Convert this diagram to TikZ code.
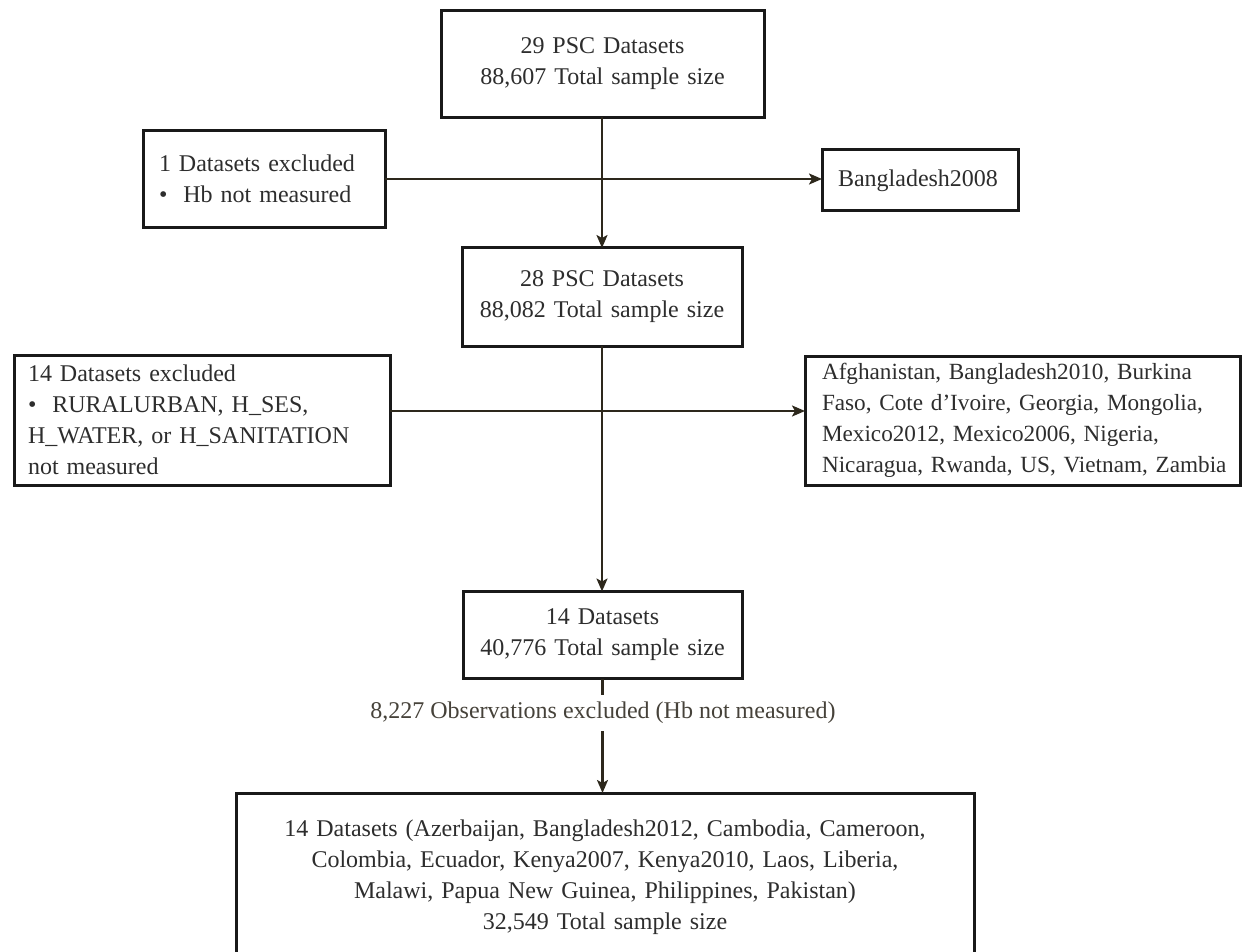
\documentclass[tikz,border=0pt]{standalone}
\usepackage{fontspec}
\setmainfont{Liberation Serif}
\usetikzlibrary{arrows.meta}
\definecolor{arrowc}{RGB}{45,40,28}
\definecolor{boxc}{RGB}{25,25,25}
\definecolor{txtc}{RGB}{45,45,45}
\definecolor{lblc}{RGB}{70,66,58}
\begin{document}
\begin{tikzpicture}[x=1pt,y=-1pt,
  box/.style={draw=boxc, line width=3pt, inner ysep=0pt, outer sep=0pt, text=txtc,
    font=\fontsize{24}{31}\selectfont},
  cbox/.style={box, align=center},
  lbox/.style={box, align=left},
  conn/.style={draw=arrowc, line width=2.2pt, -{Stealth[length=13pt,width=11pt,inset=3pt]}},
  lbl/.style={fill=white, text=lblc, inner xsep=2pt, inner ysep=7pt,
    font=\fontsize{24}{31}\selectfont}
]
\useasboundingbox (0,0) rectangle (1256,952);

\node[cbox, minimum width=323pt, minimum height=107pt, text width=300pt, inner xsep=11.5pt] (top) at (602.5,64)
  {29 PSC Datasets\\88,607 Total sample size};

\node[lbox, minimum width=242pt, minimum height=97pt, text width=210pt, inner xsep=16pt] (ex1) at (264,179)
  {\mbox{1 Datasets excluded}\\\mbox{•\ \ Hb not measured}};

\node[lbox, minimum width=196pt, minimum height=61pt, text width=164pt, inner xsep=16pt] (b08) at (920,180.5)
  {\mbox{Bangladesh2008}};

\node[cbox, minimum width=280pt, minimum height=98pt, text width=270pt, inner xsep=5pt] (box2) at (602,297)
  {28 PSC Datasets\\88,082 Total sample size};

\node[lbox, minimum width=376pt, minimum height=130pt, text width=348pt, inner xsep=14pt] (ex2) at (202,420)
  {\mbox{14 Datasets excluded}\\\mbox{•\ \ RURALURBAN, H\_SES,}\\\mbox{H\_WATER, or H\_SANITATION}\\\mbox{not measured}};

\node[lbox, minimum width=435pt, minimum height=129pt, text width=401pt, inner xsep=17pt,
  font=\fontsize{23.2}{31}\selectfont] (rgt) at (1022.5,420.5)
  {\mbox{Afghanistan, Bangladesh2010, Burkina}\\\mbox{Faso, Cote d'Ivoire, Georgia, Mongolia,}\\\mbox{Mexico2012, Mexico2006, Nigeria,}\\\mbox{Nicaragua, Rwanda, US, Vietnam, Zambia}};

\node[cbox, minimum width=279pt, minimum height=87pt, text width=270pt, inner xsep=4.5pt] (box3) at (602.5,635)
  {14 Datasets\\40,776 Total sample size};

\node[cbox, minimum width=738pt, minimum height=168pt, text width=720pt, inner xsep=9pt] (fin) at (605,877)
  {14 Datasets (Azerbaijan, Bangladesh2012, Cambodia, Cameroon,\\Colombia, Ecuador, Kenya2007, Kenya2010, Laos, Liberia,\\Malawi, Papua New Guinea, Philippines, Pakistan)\\32,549 Total sample size};

% connectors
\draw[conn] (top.south -| box2.north) -- (box2.north);
\draw[conn] (ex1.east) -- (ex1.east -| b08.west);
\draw[conn] (box2.south) -- (box2.south |- box3.north);
\draw[conn] ([yshift=9pt]ex2.east) -- ([yshift=9pt]ex2.east -| rgt.west);
\draw[conn] (box3.south) -- (box3.south |- fin.north);
\node[lbl] (obs) at (603,713) {8,227 Observations excluded (Hb not measured)};
\end{tikzpicture}
\end{document}
